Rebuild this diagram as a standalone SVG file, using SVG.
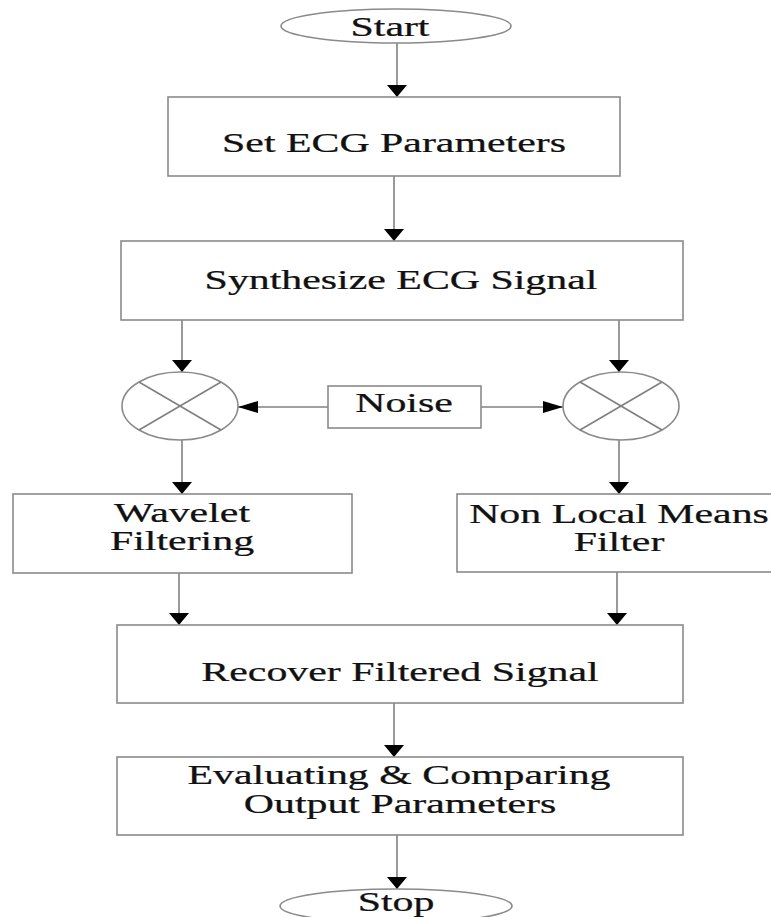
<svg xmlns="http://www.w3.org/2000/svg" width="771" height="917" viewBox="0 0 771 917">
<style>
.box{fill:#fff;stroke:#8a8a8a;stroke-width:1.6}
.ln{fill:none;stroke:#808080;stroke-width:1.6}
.t{font-family:"Liberation Serif","Times New Roman",serif;font-size:27px;fill:#111;stroke:#111;stroke-width:0.25;text-anchor:middle}
</style>
<defs>
<marker id="ad" markerUnits="userSpaceOnUse" viewBox="0 0 12 20" refX="12" refY="10" markerWidth="12" markerHeight="20" orient="auto"><path d="M0,0 L12,10 L0,20 z" fill="#000"/></marker>
<marker id="ah" markerUnits="userSpaceOnUse" viewBox="0 0 20 12" refX="20" refY="6" markerWidth="20" markerHeight="12" orient="auto"><path d="M0,0 L20,6 L0,12 z" fill="#000"/></marker>
</defs>
<rect width="771" height="917" fill="#fff"/>
<g id="connectors">
<line class="ln" x1="397" y1="43" x2="397" y2="97" marker-end="url(#ad)"/>
<line class="ln" x1="394" y1="176" x2="394" y2="241" marker-end="url(#ad)"/>
<line class="ln" x1="182" y1="320" x2="182" y2="372" marker-end="url(#ad)"/>
<line class="ln" x1="619" y1="320" x2="619" y2="372" marker-end="url(#ad)"/>
<line class="ln" x1="328" y1="407" x2="238" y2="407" marker-end="url(#ah)"/>
<line class="ln" x1="481" y1="407" x2="563" y2="407" marker-end="url(#ah)"/>
<line class="ln" x1="182" y1="440" x2="182" y2="494" marker-end="url(#ad)"/>
<line class="ln" x1="619" y1="440" x2="619" y2="494" marker-end="url(#ad)"/>
<line class="ln" x1="179" y1="573" x2="179" y2="625" marker-end="url(#ad)"/>
<line class="ln" x1="617" y1="572" x2="617" y2="625" marker-end="url(#ad)"/>
<line class="ln" x1="394" y1="703" x2="394" y2="757" marker-end="url(#ad)"/>
<line class="ln" x1="397" y1="835" x2="397" y2="889" marker-end="url(#ad)"/>
</g>
<g id="start">
<ellipse class="box" cx="396" cy="26" rx="115" ry="17"/>
<text class="t" transform="translate(390,36) scale(1.55,1)">Start</text>
</g>
<g id="set-ecg">
<rect class="box" x="168" y="97" width="452" height="79"/>
<text class="t" transform="translate(394,152) scale(1.55,1)">Set ECG Parameters</text>
</g>
<g id="synthesize">
<rect class="box" x="121" y="241" width="562" height="79"/>
<text class="t" transform="translate(401,289) scale(1.55,1)">Synthesize ECG Signal</text>
</g>
<g id="mixer-left">
<ellipse class="box" cx="180" cy="406" rx="58" ry="34"/>
<line class="ln" x1="139" y1="382" x2="221" y2="430"/>
<line class="ln" x1="139" y1="430" x2="221" y2="382"/>
</g>
<g id="mixer-right">
<ellipse class="box" cx="621" cy="406" rx="58" ry="34"/>
<line class="ln" x1="580" y1="382" x2="662" y2="430"/>
<line class="ln" x1="580" y1="430" x2="662" y2="382"/>
</g>
<g id="noise">
<rect class="box" x="328" y="386" width="153" height="42"/>
<text class="t" transform="translate(404,412) scale(1.55,1)">Noise</text>
</g>
<g id="wavelet">
<rect class="box" x="13" y="494" width="339" height="79"/>
<text class="t" transform="translate(182,522) scale(1.55,1)">Wavelet</text>
<text class="t" transform="translate(182,550) scale(1.55,1)">Filtering</text>
</g>
<g id="nlm">
<rect class="box" x="457" y="494" width="330" height="78"/>
<text class="t" transform="translate(619,523) scale(1.55,1)">Non Local Means</text>
<text class="t" transform="translate(619,551) scale(1.55,1)">Filter</text>
</g>
<g id="recover">
<rect class="box" x="117" y="625" width="566" height="78"/>
<text class="t" transform="translate(400,681) scale(1.55,1)">Recover Filtered Signal</text>
</g>
<g id="evaluate">
<rect class="box" x="117" y="757" width="566" height="78"/>
<text class="t" transform="translate(399,784) scale(1.55,1)">Evaluating &amp; Comparing</text>
<text class="t" transform="translate(400,813) scale(1.55,1)">Output Parameters</text>
</g>
<g id="stop">
<ellipse class="box" cx="396" cy="906" rx="116" ry="17"/>
<text class="t" transform="translate(396,911) scale(1.55,1)">Stop</text>
</g>
</svg>
